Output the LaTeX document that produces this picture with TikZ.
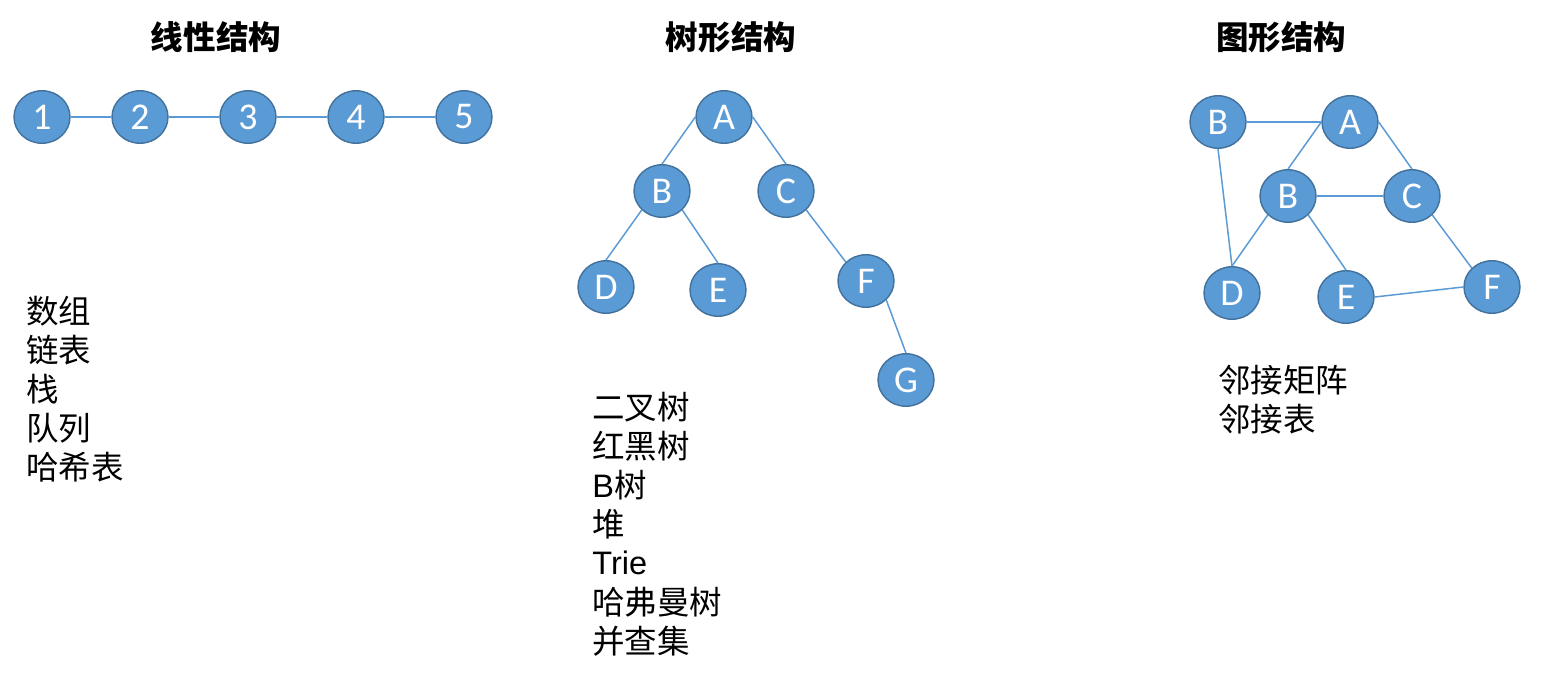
\documentclass[tikz,border=0pt]{standalone}
\usepackage{fontspec}
\setmainfont{Liberation Sans}
\newfontfamily\cjk{Noto Sans CJK SC}
\newfontfamily\nodefont{Carlito}
\usetikzlibrary{shapes.geometric}

\definecolor{nodeblue}{HTML}{5B9BD5}
\definecolor{nodeedge}{HTML}{41719C}

\begin{document}
\begin{tikzpicture}[
    x=0.02cm,
    y=-0.02cm,
    title/.style={
        font=\cjk\fontsize{18.5}{22}\selectfont\bfseries
    },
    vertex/.style={
        ellipse,
        draw=nodeedge,
        fill=nodeblue,
        line width=0.8pt,
        minimum width=1.12cm,
        minimum height=1.05cm,
        inner sep=0pt,
        text=white,
        font=\nodefont\fontsize{21.5}{24}\selectfont
    },
    link/.style={
        draw=nodeblue,
        line width=0.85pt
    },
    listline/.style={
        anchor=west,
        inner sep=0pt,
        font=\cjk\fontsize{18.5}{22}\selectfont
    }
]

\useasboundingbox (0,0) rectangle (1546,686);

% Vertical distance between list lines
\def\LineGap{39}

% ==================================================
% Linear structure
% ==================================================

\node[title] (linTitle) at (216,37) {线性结构};

\node[vertex] (n1) at (42,117)  {1};
\node[vertex] (n2) at (140,117) {2};
\node[vertex] (n3) at (248,117) {3};
\node[vertex] (n4) at (356,117) {4};
\node[vertex] (n5) at (464,117) {5};

\draw[link] (n1) -- (n2);
\draw[link] (n2) -- (n3);
\draw[link] (n3) -- (n4);
\draw[link] (n4) -- (n5);

\node[listline] (lin1) at (26,311)            {数组};
\node[listline] (lin2) at (26,311+\LineGap)   {链表};
\node[listline] (lin3) at (26,311+2*\LineGap) {栈};
\node[listline] (lin4) at (26,311+3*\LineGap) {队列};
\node[listline] (lin5) at (26,311+4*\LineGap) {哈希表};

% ==================================================
% Tree structure
% ==================================================

\node[title] (treeTitle) at (731,37) {树形结构};

\node[vertex] (tA) at (724,117) {A};
\node[vertex] (tB) at (662,191) {B};
\node[vertex] (tC) at (786,191) {C};
\node[vertex] (tD) at (606,287) {D};
\node[vertex] (tE) at (718,290) {E};
\node[vertex] (tF) at (866,281) {F};
\node[vertex] (tG) at (906,380) {G};

\draw[link] (tA.west)       -- (tB.north);
\draw[link] (tA.east)       -- (tC.north);
\draw[link] (tB.south west) -- (tD.north);
\draw[link] (tB.south east) -- (tE.north);
\draw[link] (tC.south east) -- (tF.north west);
\draw[link] (tF.south east) -- (tG.north);

\node[listline] (tree1) at (592,407)            {二叉树};
\node[listline] (tree2) at (592,407+\LineGap)   {红黑树};
\node[listline] (tree3) at (592,407+2*\LineGap) {\normalfont B\cjk 树};
\node[listline] (tree4) at (592,407+3*\LineGap) {堆};
\node[listline] (tree5) at (592,407+4*\LineGap) {\normalfont Trie};
\node[listline] (tree6) at (592,407+5*\LineGap) {哈弗曼树};
\node[listline] (tree7) at (592,407+6*\LineGap) {并查集};

% ==================================================
% Graph structure
% ==================================================

\node[title] (graphTitle) at (1281,37) {图形结构};

\node[vertex] (gB1) at (1218,122) {B};
\node[vertex] (gA)  at (1350,122) {A};
\node[vertex] (gB2) at (1288,196) {B};
\node[vertex] (gC)  at (1412,196) {C};
\node[vertex] (gD)  at (1232,293) {D};
\node[vertex] (gE)  at (1346,297) {E};
\node[vertex] (gF)  at (1492,287) {F};

\draw[link] (gB1.east)       -- (gA.west);
\draw[link] (gB1.south)      -- (gD.north);
\draw[link] (gA.west)        -- (gB2.north);
\draw[link] (gA.east)        -- (gC.north);
\draw[link] (gB2.east)       -- (gC.west);
\draw[link] (gB2.south west) -- (gD.north);
\draw[link] (gB2.south east) -- (gE.north);
\draw[link] (gC.south east)  -- (gF.north west);
\draw[link] (gE.east)        -- (gF.west);

\node[listline] (graph1) at (1218,380)          {邻接矩阵};
\node[listline] (graph2) at (1218,380+\LineGap) {邻接表};

\end{tikzpicture}
\end{document}
